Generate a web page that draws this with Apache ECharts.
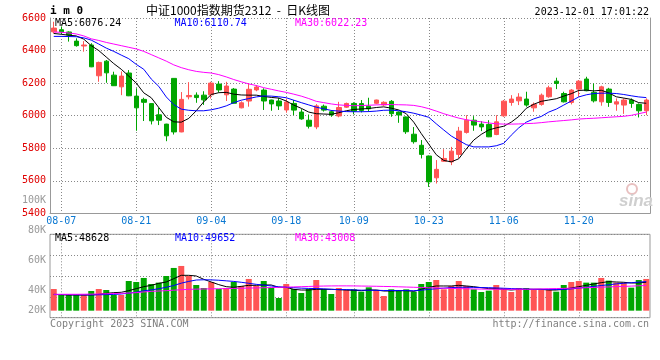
<!DOCTYPE html>
<html><head><meta charset="utf-8">
<script src="https://cdn.jsdelivr.net/npm/echarts@6/dist/echarts.min.js"></script>
<style>html,body{margin:0;padding:0;background:#fff}#c{width:660px;height:360px}</style>
</head><body><div id="c"></div>
<script>
// ---------- data ----------
const dates = ['08-04','08-07','08-08','08-09','08-10','08-11','08-14','08-15','08-16','08-17','08-18',
 '08-21','08-22','08-23','08-24','08-25','08-28','08-29','08-30','08-31','09-01',
 '09-04','09-05','09-06','09-07','09-08','09-11','09-12','09-13','09-14','09-15',
 '09-18','09-19','09-20','09-21','09-22','09-25','09-26','09-27','09-28',
 '10-09','10-10','10-11','10-12','10-13','10-16','10-17','10-18','10-19','10-20',
 '10-23','10-24','10-25','10-26','10-27','10-30','10-31','11-01','11-02','11-03',
 '11-06','11-07','11-08','11-09','11-10','11-13','11-14','11-15','11-16','11-17',
 '11-20','11-21','11-22','11-23','11-24','11-27','11-28','11-29','11-30','12-01'];
const opens  = [6515,6528,6514,6458,6428,6434,6245,6335,6249,6177,6262,6120,6100,6074,6005,5948,6229,5900,6116,6126,
 6126,6128,6194,6128,6163,6048,6090,6158,6157,6096,6090,6035,6075,6022,5972,5931,6058,6024,5998,6052,
 6075,6074,6058,6076,6066,6088,6022,5992,5886,5818,5752,5618,5720,5716,5762,5897,5972,5948,5946,5884,
 5999,6081,6091,6102,6048,6069,6116,6212,6136,6081,6163,6225,6143,6085,6163,6071,6065,6096,6069,6030];
const closes = [6538,6515,6495,6430,6434,6300,6327,6263,6184,6243,6122,6048,6082,5968,5972,5876,5900,6100,6124,6111,
 6097,6200,6158,6182,6076,6079,6162,6176,6090,6072,6060,6084,6034,5980,5935,6060,6034,6004,6050,6075,
 6028,6032,6042,6096,6082,6012,6004,5901,5840,5762,5593,5670,5737,5782,5905,5972,5942,5931,5870,5962,
 6089,6102,6114,6065,6069,6126,6171,6198,6085,6157,6212,6153,6091,6177,6081,6085,6096,6075,6030,6096];
const lows   = [6505,6500,6455,6424,6393,6298,6208,6202,6182,6126,6120,5907,5967,5946,5942,5843,5884,5898,6100,6079,
 6066,6105,6142,6090,6075,6045,6055,6150,6035,6030,6035,6018,6003,5975,5921,5917,6025,5993,5990,6048,
 6008,6020,6024,6070,6060,5993,5956,5888,5828,5737,5562,5583,5716,5696,5740,5890,5907,5905,5868,5880,
 5993,6061,6065,6055,6024,6061,6110,6163,6081,6069,6116,6150,6081,6061,6054,6030,6011,6048,5989,6003];
const highs  = [6577,6548,6518,6475,6458,6445,6332,6342,6270,6272,6280,6168,6110,6076,6050,5950,6230,6145,6206,6143,
 6150,6208,6212,6208,6170,6088,6198,6188,6168,6098,6108,6105,6096,6040,6007,6071,6068,6034,6085,6080,
 6082,6096,6110,6098,6088,6096,6026,5995,5930,5850,5755,5727,5794,5808,5931,6003,5997,5966,5972,6003,
 6096,6126,6138,6147,6081,6136,6184,6233,6147,6163,6219,6239,6198,6184,6171,6106,6106,6106,6075,6106];
const ma5  = [6505,6500,6494,6490,6470,6430,6400,6360,6320,6285,6243,6200,6140,6110,6050,5990,5962,5960,5983,6030,
 6085,6130,6141,6143,6132,6127,6126,6126,6118,6112,6108,6090,6065,6045,6022,6012,6010,6008,6018,6030,
 6038,6041,6044,6050,6054,6046,6035,6012,5960,5890,5825,5760,5725,5716,5735,5795,5850,5885,5912,5925,
 5935,5960,5995,6045,6070,6088,6096,6104,6120,6135,6155,6157,6152,6156,6140,6116,6108,6100,6080,6076];
const ma10 = [6487,6487,6486,6485,6478,6464,6440,6415,6395,6372,6350,6315,6285,6225,6180,6115,6068,6040,6033,6030,
 6030,6036,6046,6060,6080,6095,6105,6115,6121,6120,6116,6110,6095,6080,6066,6052,6042,6032,6028,6025,
 6024,6024,6025,6028,6033,6034,6030,6024,6015,6003,5990,5950,5912,5875,5848,5822,5808,5808,5808,5815,
 5830,5880,5925,5960,5980,5995,6022,6040,6065,6090,6115,6128,6136,6138,6138,6136,6130,6122,6115,6111];
const ma30 = [6514,6512,6508,6502,6490,6472,6462,6450,6440,6430,6420,6410,6395,6375,6355,6335,6312,6295,6282,6272,
 6266,6262,6252,6238,6222,6208,6195,6185,6172,6162,6152,6143,6132,6120,6105,6088,6080,6072,6066,6063,
 6061,6062,6064,6066,6068,6068,6067,6066,6063,6055,6043,6028,6012,5998,5985,5975,5968,5962,5955,5950,
 5948,5948,5949,5951,5953,5957,5962,5966,5970,5974,5979,5982,5984,5987,5990,5993,5996,6002,6012,6022];
const volumes = [37000,26800,26800,26800,26800,33600,37000,35300,26800,26800,50700,49000,55900,45600,47900,59300,73000,76400,59300,43900,
 38800,49000,37000,38800,49000,42200,54200,42200,50700,38800,21700,45600,37000,30200,37000,52400,37000,28500,38800,35300,
 36500,32500,39900,35300,25100,36500,35300,36500,32500,45600,49000,52400,36500,42200,50700,42200,36500,31900,34200,43900,
 38200,31900,38800,38800,36500,36500,36500,32500,43900,49000,50700,47900,47900,55900,51300,47900,47900,39300,52400,54200];
const volMa5 = [27900,27400,26800,26800,26800,26800,27900,29600,30800,31400,34200,37600,41000,43300,46700,49000,54700,60400,60400,59300,
 53600,49000,44500,41000,39900,41600,43300,43300,43900,43900,39900,39900,36500,35300,35300,36500,36500,36500,35900,35300,
 34800,34200,35300,35300,33600,33600,34200,34200,33100,36500,39900,42200,42200,42200,43300,42200,41000,39300,37600,37600,
 36500,35300,36500,36500,36500,36500,35300,35300,36500,38800,41000,43300,45600,47900,49600,49000,48500,47300,47300,48600];
const volMa10 = [27500,27500,27400,27200,27000,27000,27200,27500,27800,28500,30000,31500,34000,35500,37500,40000,43000,47000,50000,52400,
 52800,52600,52000,51000,50000,48500,46800,45000,43700,42200,40800,39900,39300,38500,38000,37800,37300,36500,36000,36000,
 35500,35000,35000,34800,34500,34500,34300,34300,34000,35000,36300,37500,38500,39500,40000,40000,39800,39500,39300,38800,
 38300,37800,37300,36800,36500,36500,36400,36200,36300,37200,38500,40000,41500,43000,44300,45800,46800,47800,48800,49650];
const volMa30 = [28000,28000,28000,28000,28100,28300,28500,29000,29300,29700,30200,30800,32000,33000,33600,34200,35000,35800,36400,36800,
 37100,37300,37500,37700,38000,38300,38600,38900,39200,39500,39800,40200,40600,41000,41400,41800,42100,42300,42400,42400,
 42300,42100,41900,41700,41400,41200,40800,40400,40000,39600,39200,38800,38400,38000,37700,37400,37100,36900,36700,36600,
 36500,36500,36500,36600,36800,37100,37500,37800,38100,38400,38800,39300,39700,40200,40600,41100,41500,42000,42500,43000];
// tick labels
const dateTickLabels = ['08-07','08-21','09-04','09-18','10-09','10-23','11-06','11-20'];
const priceTicks = [5400,5600,5800,6000,6200,6400,6600];
const volTickValues = [20000,40000,60000,80000,100000];
const volTickText = ['20K','40K','60K','80K','100K'];
// texts
const codeText = 'i m 0';
const titleText = '中证1000指数期货2312  -  日K线图';
const timeText = '2023-12-01 17:01:22';
const priceLegend = ['MA5:6076.24','MA10:6110.74','MA30:6022.23'];
const volLegend = ['MA5:48628','MA10:49652','MA30:43008'];
const footLeft = 'Copyright 2023 SINA.COM';
const footRight = 'http://finance.sina.com.cn';

// ---------- chart ----------
const RED = '#FF5555', GREEN = '#00A600';
const MONO = '"DejaVu Sans Mono", monospace';
const AXISC = '#999999';
const DOT = {color: '#888888', type: [1, 2], width: 1};
const candleData = opens.map((o, i) => [o, closes[i], lows[i], highs[i]]);
const volData = volumes.map((v, i) => ({value: v, itemStyle: {color: closes[i] >= opens[i] ? RED : GREEN}}));
const showDate = (i, v) => dateTickLabels.indexOf(v) >= 0;
const catSplit = {show: true, interval: showDate, alignWithLabel: true, lineStyle: DOT};

const chart = echarts.init(document.getElementById('c'), null, {renderer: 'canvas'});
const lineS = (name, data, color, xi, yi) => ({
  name, type: 'line', data, xAxisIndex: xi, yAxisIndex: yi, symbol: 'none', silent: true,
  lineStyle: {color, width: 1}, z: 5, animation: false
});
const txt = (text, x, y, color, align, font) => ({
  type: 'text', x, y, z: 100, silent: true,
  style: {text, fill: color, align: align || 'left', verticalAlign: 'middle', font: font || ('10px ' + MONO)}
});

chart.setOption({
  animation: false,
  backgroundColor: '#fff',
  grid: [
    {left: 50, top: 18, width: 600, height: 195.3},
    {left: 50, top: 234.3, width: 600, height: 83.4, show: true, borderColor: AXISC, borderWidth: 1, backgroundColor: 'transparent'},
    {left: 50, top: 200.7, width: 600, height: 120}
  ],
  xAxis: [
    {type: 'category', gridIndex: 0, data: dates, boundaryGap: true,
     axisLine: {show: true, lineStyle: {color: AXISC, width: 1}}, axisTick: {show: false},
     axisLabel: {interval: showDate, color: '#0A78D2', margin: 3, fontFamily: MONO, fontSize: 10},
     splitLine: catSplit},
    {type: 'category', gridIndex: 1, data: dates, boundaryGap: true,
     axisLine: {show: false}, axisTick: {show: false}, axisLabel: {show: false}, splitLine: catSplit},
    {type: 'value', gridIndex: 2, show: false}
  ],
  yAxis: [
    {type: 'value', gridIndex: 0, min: priceTicks[0], max: priceTicks[priceTicks.length - 1], interval: 200, position: 'left',
     axisLine: {show: true, lineStyle: {color: AXISC, width: 1}}, axisTick: {show: false},
     axisLabel: {color: '#E00000', margin: 4, fontFamily: MONO, fontSize: 10, formatter: v => String(v)},
     splitLine: {show: true, lineStyle: DOT}},
    {type: 'value', gridIndex: 0, min: priceTicks[0], max: priceTicks[priceTicks.length - 1], position: 'right',
     axisLine: {show: true, lineStyle: {color: AXISC, width: 1}}, axisTick: {show: false}, axisLabel: {show: false}, splitLine: {show: false}},
    {type: 'value', gridIndex: 1, min: -12000, max: 130500,
     axisLine: {show: false}, axisTick: {show: false}, axisLabel: {show: false}, splitLine: {show: false}},
    {type: 'value', gridIndex: 1, min: 0, max: 4, interval: 1,
     axisLine: {show: false}, axisTick: {show: false}, axisLabel: {show: false},
     splitLine: {show: true, lineStyle: DOT}},
    {type: 'value', gridIndex: 2, min: volTickValues[0], max: volTickValues[volTickValues.length - 1], interval: 20000,
     axisLine: {show: false}, axisTick: {show: false}, splitLine: {show: false},
     axisLabel: {color: '#9A9A9A', margin: 4, fontFamily: MONO, fontSize: 10,
       formatter: v => { const t = volTickText[volTickValues.indexOf(v)]; return v === volTickValues[0] ? '{lo|' + t + '}' : t; },
       rich: {lo: {padding: [0, 0, 20, 0], color: '#9A9A9A', fontFamily: MONO, fontSize: 10}}}}
  ],
  series: [
    {type: 'candlestick', xAxisIndex: 0, yAxisIndex: 0, data: candleData, barWidth: 5, silent: true, z: 3,
     itemStyle: {color: RED, color0: GREEN, borderColor: RED, borderColor0: GREEN, borderWidth: 1}},
    lineS('MA5', ma5, '#000000', 0, 0),
    lineS('MA10', ma10, '#0000FF', 0, 0),
    lineS('MA30', ma30, '#FF00FF', 0, 0),
    {type: 'bar', xAxisIndex: 1, yAxisIndex: 2, data: volData, barWidth: 6, silent: true, z: 3},
    lineS('VMA5', volMa5, '#000000', 1, 2),
    lineS('VMA10', volMa10, '#0000FF', 1, 2),
    lineS('VMA30', volMa30, '#FF00FF', 1, 2)
  ],
  graphic: [
    txt(codeText, 50, 11, '#000', 'left', 'bold 11px ' + MONO),
    txt(titleText, 238, 10.5, '#000', 'center', '12px "Noto Sans CJK SC"'),
    txt(timeText, 649, 12, '#000', 'right'),
    txt(priceLegend[0], 55, 23.5, '#000'),
    txt(priceLegend[1], 174.5, 23.5, '#0000FF'),
    txt(priceLegend[2], 295, 23.5, '#FF00FF'),
    txt(volLegend[0], 55, 238.5, '#000'),
    txt(volLegend[1], 175, 238.5, '#0000FF'),
    txt(volLegend[2], 295, 238.5, '#FF00FF'),
    txt(footLeft, 50, 324, '#808080'),
    txt(footRight, 649, 324, '#808080', 'right'),
    {type: 'circle', shape: {cx: 632, cy: 189, r: 5}, z: 1, silent: true, style: {fill: 'none', stroke: '#E8C0C0', lineWidth: 2}},
    txt('sina', 636, 201, '#CFCFCF', 'center', 'italic bold 17px "Liberation Sans", sans-serif')
  ]
});
</script></body></html>
